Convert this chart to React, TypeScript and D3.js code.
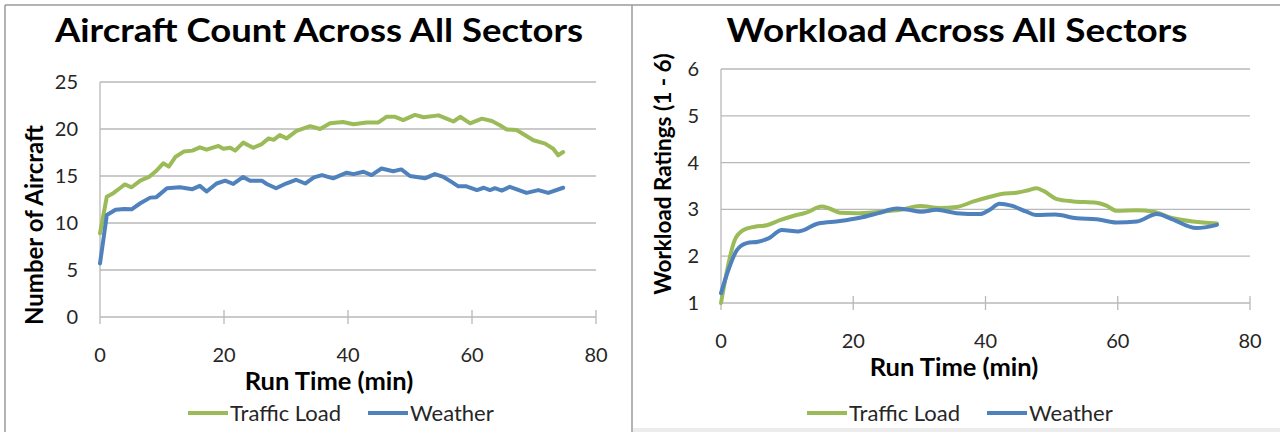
/** Aircraft count + workload panels: two Excel-style line charts side by side. */

import * as d3 from "d3";

// Run time ticks shared by both panels
const runTimeTicks = [0, 20, 40, 60, 80];
const countTicks = [0, 5, 10, 15, 20, 25];
const ratingTicks = [1, 2, 3, 4, 5, 6];

const seriesNames = ["Traffic Load", "Weather"];

// Aircraft count panel (min, aircraft)
const trafficCountTimes = [0, 1.1, 2.2, 3.2, 4.0, 5.1, 6.5, 7.9, 9.0, 10.2, 11.1, 12.2, 13.5, 14.9, 16.1, 17.2, 19.1, 19.9, 21.0, 21.8, 23.1, 24.7, 26.1, 27.2, 28.0, 29.0, 30.1, 31.7, 33.9, 35.5, 37.1, 39.2, 40.9, 43.0, 44.9, 46.2, 47.6, 48.9, 50.8, 52.2, 54.6, 55.9, 57.0, 58.1, 59.7, 61.6, 63.2, 64.5, 65.6, 67.2, 69.9, 71.8, 73.1, 73.9, 74.7];
const trafficCounts = [8.9, 12.8, 13.2, 13.7, 14.1, 13.8, 14.5, 14.9, 15.5, 16.35, 16.0, 17.05, 17.6, 17.7, 18.05, 17.8, 18.2, 17.9, 18.0, 17.7, 18.55, 18.0, 18.4, 19.0, 18.85, 19.35, 19.0, 19.8, 20.3, 20.0, 20.6, 20.75, 20.5, 20.7, 20.7, 21.3, 21.3, 20.95, 21.5, 21.25, 21.45, 21.1, 20.8, 21.3, 20.6, 21.1, 20.85, 20.4, 19.95, 19.9, 18.8, 18.45, 17.9, 17.2, 17.55];
const weatherCountTimes = [0, 1.1, 2.5, 3.9, 5.1, 6.5, 8.1, 9.1, 10.8, 12.9, 14.9, 16.1, 17.2, 18.8, 20.2, 21.5, 23.1, 24.2, 26.1, 26.9, 28.4, 30.0, 31.6, 33.1, 34.5, 35.8, 37.6, 39.8, 40.9, 42.5, 43.8, 45.4, 47.3, 48.6, 50.0, 52.4, 54.0, 55.4, 56.5, 57.8, 59.1, 60.8, 61.9, 62.9, 63.7, 64.8, 66.1, 68.8, 70.7, 72.3, 74.7];
const weatherCounts = [5.7, 10.85, 11.4, 11.5, 11.45, 12.1, 12.7, 12.75, 13.7, 13.8, 13.6, 13.95, 13.35, 14.2, 14.5, 14.15, 14.9, 14.5, 14.5, 14.15, 13.7, 14.2, 14.6, 14.2, 14.85, 15.1, 14.75, 15.35, 15.2, 15.45, 15.1, 15.8, 15.5, 15.7, 15.0, 14.75, 15.2, 14.9, 14.45, 13.9, 13.9, 13.5, 13.75, 13.5, 13.7, 13.45, 13.85, 13.2, 13.5, 13.2, 13.75];

// Workload panel (min, rating 1-6)
const trafficRatingTimes = [0, 2.1, 3.4, 5.1, 6.9, 8.9, 10.9, 12.9, 15.2, 16.4, 18.0, 20.5, 24.0, 27.1, 30.1, 33.1, 35.6, 38.2, 40.7, 42.4, 44.9, 46.5, 47.7, 48.7, 50.8, 53.3, 56.8, 58.3, 59.8, 62.9, 65.4, 68.4, 71.4, 75.0];
const trafficRatings = [1.0, 2.35, 2.56, 2.63, 2.66, 2.77, 2.86, 2.93, 3.06, 3.02, 2.93, 2.92, 2.95, 2.99, 3.07, 3.03, 3.05, 3.17, 3.27, 3.33, 3.36, 3.41, 3.45, 3.40, 3.22, 3.17, 3.14, 3.08, 2.97, 2.98, 2.95, 2.81, 2.74, 2.70];
const weatherRatingTimes = [0, 1.1, 2.4, 3.9, 5.6, 7.2, 9.2, 11.7, 14.7, 18.0, 21.0, 23.8, 26.6, 28.1, 30.3, 32.6, 35.6, 39.2, 40.7, 42.1, 43.9, 46.2, 47.7, 50.5, 53.8, 56.8, 59.8, 62.9, 65.9, 67.9, 71.9, 75.0];
const weatherRatings = [1.21, 1.7, 2.13, 2.28, 2.31, 2.38, 2.56, 2.53, 2.70, 2.75, 2.82, 2.92, 3.02, 3.0, 2.95, 2.99, 2.92, 2.90, 3.0, 3.12, 3.08, 2.95, 2.88, 2.89, 2.81, 2.79, 2.72, 2.74, 2.90, 2.81, 2.60, 2.67];

const GREEN = "#9BBB59";
const BLUE = "#4F81BD";
const FONT = "Lato, 'Open Sans', sans-serif";
const GRID = "#b8b8b8";
const BORDER = "#9a9a9a";

type Pt = [number, number];
const zip = (xs: number[], ys: number[]): Pt[] => xs.map((x, i) => [x, ys[i]]);

interface PanelProps {
  title: string;
  titleX: number;
  titleWidth: number;
  yLabel: string;
  yLabelX: number;
  yLabelY: number;
  yLabelSize: number;
  xRange: [number, number];
  yDomain: [number, number];
  yRange: [number, number];
  yTicks: number[];
  xTickY: number;
  xTitleX: number;
  xTitleY: number;
  legendX: number;
  series: Pt[][];
  smooth: boolean;
}

function Panel(p: PanelProps) {
  const x = d3.scaleLinear().domain([0, 80]).range(p.xRange);
  const y = d3.scaleLinear().domain(p.yDomain).range(p.yRange);
  const line = d3
    .line<Pt>()
    .x((d) => x(d[0]))
    .y((d) => y(d[1]))
    .curve(p.smooth ? d3.curveMonotoneX : d3.curveLinear);
  const x0 = p.xRange[0];
  const x1 = p.xRange[1];
  const yBase = y(p.yDomain[0]);
  const colors = [GREEN, BLUE];

  return (
    <g fontFamily={FONT}>
      <text
        x={p.titleX}
        y={42}
        fontSize={32}
        fontWeight={700}
        textAnchor="middle"
        fill="#000"
        textLength={p.titleWidth}
        lengthAdjust="spacingAndGlyphs"
      >
        {p.title}
      </text>

      {/* grid */}
      {p.yTicks.slice(1).map((t) => (
        <line key={t} x1={x0} x2={x1} y1={y(t)} y2={y(t)} stroke={GRID} strokeWidth={1.3} />
      ))}
      {/* axes */}
      <line x1={x0} x2={x1} y1={yBase} y2={yBase} stroke={GRID} strokeWidth={1.3} />
      <line x1={x0} x2={x0} y1={y(p.yDomain[1])} y2={yBase + 7} stroke={GRID} strokeWidth={1.3} />
      {runTimeTicks.slice(1).map((t) => (
        <line key={t} x1={x(t)} x2={x(t)} y1={yBase - 7} y2={yBase + 7} stroke={GRID} strokeWidth={1.3} />
      ))}

      {/* y tick labels */}
      {p.yTicks.map((t) => (
        <text key={t} x={x0 - 22} y={y(t)} dy="0.35em" fontSize={20} textAnchor="end" fill="#262626">
          {t}
        </text>
      ))}
      {/* x tick labels */}
      {runTimeTicks.map((t) => (
        <text key={t} x={x(t)} y={p.xTickY} fontSize={20} textAnchor="middle" fill="#262626">
          {t}
        </text>
      ))}

      <text x={p.xTitleX} y={p.xTitleY} fontSize={25.5} fontWeight={700} textAnchor="middle" fill="#000">
        Run Time (min)
      </text>
      <text
        transform={`translate(${p.yLabelX},${p.yLabelY}) rotate(-90)`}
        fontSize={p.yLabelSize}
        fontWeight={700}
        textAnchor="middle"
        fill="#000"
      >
        {p.yLabel}
      </text>

      {/* series */}
      {p.series.map((s, i) => (
        <path
          key={i}
          d={line(s) ?? ""}
          fill="none"
          stroke={colors[i]}
          strokeWidth={4}
          strokeLinejoin="round"
          strokeLinecap="round"
        />
      ))}

      {/* legend */}
      <g transform={`translate(${p.legendX},0)`}>
        <line x1={0} x2={40} y1={413} y2={413} stroke={GREEN} strokeWidth={4} />
        <text x={42} y={421} fontSize={22} fill="#262626">
          {seriesNames[0]}
        </text>
        <line x1={180} x2={220} y1={413} y2={413} stroke={BLUE} strokeWidth={4} />
        <text x={222} y={421} fontSize={22} fill="#262626">
          {seriesNames[1]}
        </text>
      </g>
    </g>
  );
}

export default function App() {
  return (
    <svg
      width={1280}
      height={432}
      style={{ position: "absolute", left: 0, top: 0, display: "block", background: "#fff" }}
    >
      {/* panel frames */}
      <line x1={5} x2={1280} y1={5} y2={5} stroke={BORDER} strokeWidth={1.5} />
      <line x1={5} x2={5} y1={5} y2={432} stroke={BORDER} strokeWidth={1.5} />
      <line x1={632} x2={632} y1={5} y2={432} stroke={BORDER} strokeWidth={1.5} />
      <rect x={633} y={428} width={647} height={4} fill="#ececec" />

      <Panel
        title="Aircraft Count Across All Sectors"
        titleX={319}
        titleWidth={528}
        yLabel="Number of Aircraft"
        yLabelX={43}
        yLabelY={225}
        yLabelSize={24}
        xRange={[100, 596]}
        yDomain={[0, 25]}
        yRange={[317, 82]}
        yTicks={countTicks}
        xTickY={362}
        xTitleX={329}
        xTitleY={390}
        legendX={188}
        series={[zip(trafficCountTimes, trafficCounts), zip(weatherCountTimes, weatherCounts)]}
        smooth={false}
      />
      <Panel
        title="Workload Across All Sectors"
        titleX={957}
        titleWidth={461}
        yLabel="Workload Ratings (1 - 6)"
        yLabelX={671}
        yLabelY={174}
        yLabelSize={22.5}
        xRange={[721, 1250]}
        yDomain={[1, 6]}
        yRange={[303, 69]}
        yTicks={ratingTicks}
        xTickY={348}
        xTitleX={954}
        xTitleY={376}
        legendX={807}
        series={[zip(trafficRatingTimes, trafficRatings), zip(weatherRatingTimes, weatherRatings)]}
        smooth={true}
      />
    </svg>
  );
}
